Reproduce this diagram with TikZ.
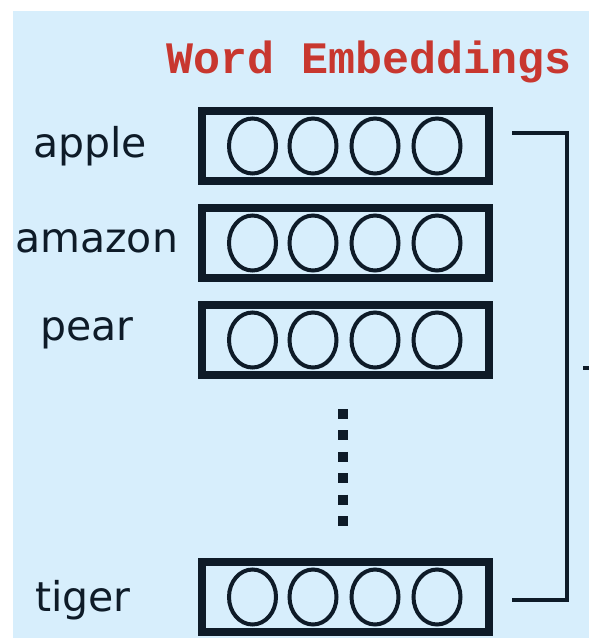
\documentclass[tikz,border=0pt]{standalone}
\usepackage{fontspec}
\setmainfont{DejaVu Sans}
\newfontfamily\titlefont{Liberation Mono}
\definecolor{bgblue}{HTML}{D7EEFC}
\definecolor{ink}{HTML}{0E1B28}
\definecolor{titlered}{HTML}{C8372F}
\tikzset{
  vecbox/.style={draw=ink, line width=8pt, rectangle, minimum width=287pt, minimum height=70pt, inner sep=0pt},
  unit/.style={draw=ink, line width=4pt},
  word/.style={anchor=base west, inner sep=0pt, text=ink, font=\fontsize{41}{41}\selectfont},
  bracket/.style={draw=ink, line width=4pt}
}
\begin{document}
\begin{tikzpicture}[x=1pt,y=-1pt]
\useasboundingbox (0,0) rectangle (589,638);
\fill[white] (0,0) rectangle (589,638);
\fill[bgblue] (13,11) rectangle (589,638);
\node[anchor=base west, inner sep=0pt, text=titlered, font=\titlefont\bfseries\fontsize{45}{45}\selectfont] (title) at (166,73) {Word Embeddings};
% boxes
\foreach \n/\y in {b1/146, b2/243, b3/340, b4/597} {
  \node[vecbox] (\n) at (345.5,\y) {};
  \foreach \cx in {252.5,313,375,437} {
    \draw[unit] (\cx,\y) ellipse [x radius=23.5, y radius=27.5];
  }
}
% labels
\node[word] (lapple) at (33,157) {apple};
\node[word] (lamazon) at (15,252) {amazon};
\node[word] (lpear) at (40,340) {pear};
\node[word] (ltiger) at (35,611) {tiger};
% dots
\coordinate (d1) at (343,409);
\coordinate (d2) at (343,527);
\draw[draw=ink, line width=10pt, dash pattern=on 10pt off 11.4pt] (d1) -- (d2);
% bracket
\coordinate (bt) at (512,133);
\coordinate (bc1) at (567,133);
\coordinate (bc2) at (567,600);
\coordinate (bb) at (512,600);
\draw[bracket] (bt) -- (bc1) -- (bc2) -- (bb);
\coordinate (t1) at (583,368);
\coordinate (t2) at (590,368);
\draw[bracket] (t1) -- (t2);
\end{tikzpicture}
\end{document}
